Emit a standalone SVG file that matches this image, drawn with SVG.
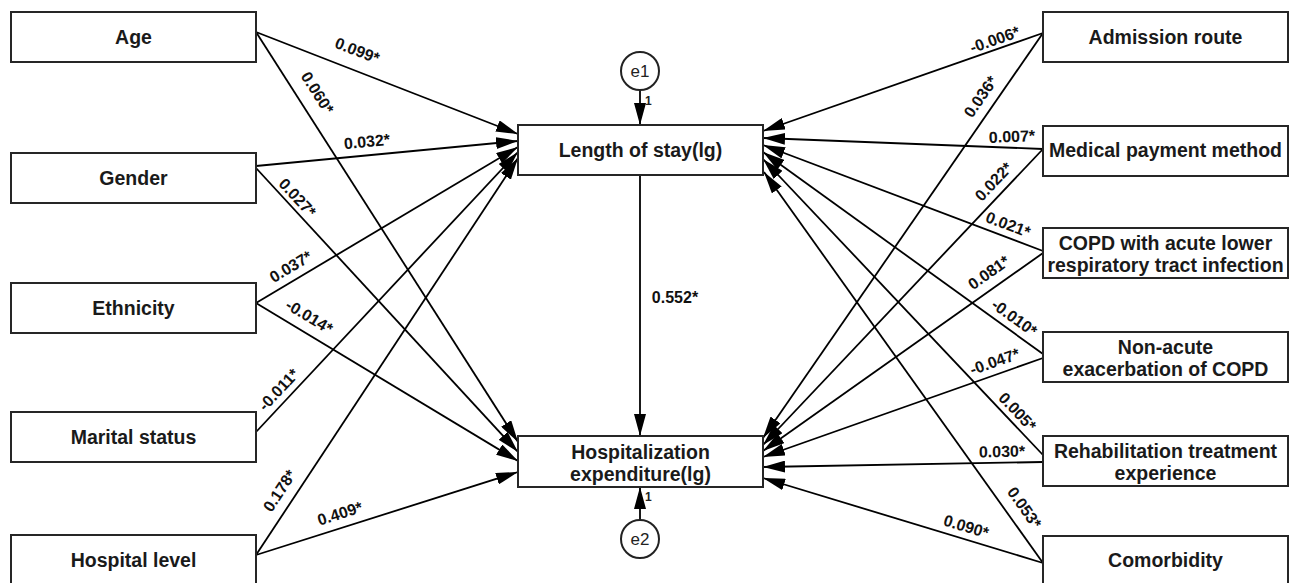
<svg xmlns="http://www.w3.org/2000/svg" width="1290" height="583" viewBox="0 0 1290 583">
<style>
.box{fill:#fff;stroke:#262626;stroke-width:2}
.nt{font-family:"Liberation Sans",Arial,sans-serif;font-weight:bold;font-size:19.5px;fill:#1a1a1a;text-anchor:middle}
.lb{font-family:"Liberation Sans",Arial,sans-serif;font-weight:bold;font-size:16px;fill:#111;text-anchor:middle}
.ed{stroke:#000;stroke-width:1.8;fill:none;marker-end:url(#ah)}
.circ{fill:#fff;stroke:#222;stroke-width:2}
.et{font-family:"Liberation Sans",Arial,sans-serif;font-size:17px;fill:#222;text-anchor:middle}
.one{font-family:"Liberation Sans",Arial,sans-serif;font-weight:bold;font-size:12px;fill:#222}
</style>
<defs>
<marker id="ah" markerUnits="userSpaceOnUse" markerWidth="22" markerHeight="12" viewBox="0 0 22 12" refX="22" refY="6" orient="auto">
<path d="M0,0 L22,6 L0,12 z" fill="#000"/>
</marker>
</defs>
<rect width="1290" height="583" fill="#fff"/>

<g id="connectors">
<line class="ed" x1="256" y1="32" x2="518" y2="134"/>
<line class="ed" x1="256" y1="166" x2="518" y2="141"/>
<line class="ed" x1="256" y1="303" x2="518" y2="147"/>
<line class="ed" x1="256" y1="432" x2="518" y2="152"/>
<line class="ed" x1="256" y1="555" x2="518" y2="158"/>
<line class="ed" x1="256" y1="32" x2="518" y2="442"/>
<line class="ed" x1="256" y1="168" x2="518" y2="452"/>
<line class="ed" x1="256" y1="303" x2="518" y2="461"/>
<line class="ed" x1="256" y1="555" x2="518" y2="472"/>
<line class="ed" x1="1043" y1="33" x2="763" y2="131"/>
<line class="ed" x1="1043" y1="149" x2="763" y2="138"/>
<line class="ed" x1="1043" y1="251" x2="763" y2="145"/>
<line class="ed" x1="1043" y1="354" x2="763" y2="152"/>
<line class="ed" x1="1043" y1="455" x2="763" y2="159"/>
<line class="ed" x1="1043" y1="563" x2="764" y2="172"/>
<line class="ed" x1="1043" y1="33" x2="763" y2="438"/>
<line class="ed" x1="1043" y1="149" x2="763" y2="445"/>
<line class="ed" x1="1043" y1="253" x2="763" y2="451"/>
<line class="ed" x1="1043" y1="358" x2="763" y2="457"/>
<line class="ed" x1="1043" y1="462" x2="763" y2="467"/>
<line class="ed" x1="1043" y1="563" x2="763" y2="478"/>
<line class="ed" x1="640" y1="175" x2="640" y2="436"/>
<line class="ed" x1="640" y1="90" x2="640" y2="125"/>
<line class="ed" x1="640" y1="520" x2="640" y2="487"/>

<text class="lb" transform="translate(357,51) rotate(21.1)" y="5">0.099*</text>
<text class="lb" transform="translate(317,93) rotate(57.4)" y="5">0.060*</text>
<text class="lb" transform="translate(367,142) rotate(-5.5)" y="5">0.032*</text>
<text class="lb" transform="translate(297,198) rotate(47.3)" y="5">0.027*</text>
<text class="lb" transform="translate(291,267) rotate(-30.8)" y="5">0.037*</text>
<text class="lb" transform="translate(309,317) rotate(31.1)" y="5">-0.014*</text>
<text class="lb" transform="translate(279,390) rotate(-46.9)" y="5">-0.011*</text>
<text class="lb" transform="translate(280,491) rotate(-56.6)" y="5">0.178*</text>
<text class="lb" transform="translate(340,514) rotate(-17.6)" y="5">0.409*</text>

<text class="lb" transform="translate(995,40) rotate(-19.3)" y="5">-0.006*</text>
<text class="lb" transform="translate(981,97) rotate(-55.3)" y="5">0.036*</text>
<text class="lb" transform="translate(1012,137) rotate(-2.2)" y="5">0.007*</text>
<text class="lb" transform="translate(994,182) rotate(-46.6)" y="5">0.022*</text>
<text class="lb" transform="translate(1008,225) rotate(20.7)" y="5">0.021*</text>
<text class="lb" transform="translate(989,273) rotate(-35.3)" y="5">0.081*</text>
<text class="lb" transform="translate(1014,318) rotate(35.8)" y="5">-0.010*</text>
<text class="lb" transform="translate(995,362) rotate(-19.5)" y="5">-0.047*</text>
<text class="lb" transform="translate(1017,412) rotate(46.6)" y="5">0.005*</text>
<text class="lb" transform="translate(1002,452) rotate(-1)" y="5">0.030*</text>
<text class="lb" transform="translate(1024,508) rotate(54.5)" y="5">0.053*</text>
<text class="lb" transform="translate(966,527) rotate(16.9)" y="5">0.090*</text>

<text class="lb" x="675" y="303">0.552*</text>
<text class="one" x="645" y="105">1</text>
<text class="one" x="645" y="501">1</text>
</g>

<g id="age"><rect class="box" x="11" y="12" width="245" height="50"/><text class="nt" x="133.5" y="44">Age</text></g>
<g id="gender"><rect class="box" x="11" y="153" width="245" height="50"/><text class="nt" x="133.5" y="185">Gender</text></g>
<g id="ethnicity"><rect class="box" x="11" y="283" width="245" height="50"/><text class="nt" x="133.5" y="315">Ethnicity</text></g>
<g id="marital"><rect class="box" x="11" y="412" width="245" height="50"/><text class="nt" x="133.5" y="444">Marital status</text></g>
<g id="hospital-level"><rect class="box" x="11" y="535" width="245" height="50"/><text class="nt" x="133.5" y="567">Hospital level</text></g>

<g id="admission"><rect class="box" x="1043" y="12" width="245" height="50"/><text class="nt" x="1165.5" y="44">Admission route</text></g>
<g id="payment"><rect class="box" x="1043" y="126" width="245" height="50"/><text class="nt" x="1165.5" y="157">Medical payment method</text></g>
<g id="copd-acute"><rect class="box" x="1043" y="228" width="245" height="50"/><text class="nt" x="1165.5" y="250">COPD with acute lower</text><text class="nt" x="1165.5" y="272">respiratory tract infection</text></g>
<g id="non-acute"><rect class="box" x="1043" y="332" width="245" height="50"/><text class="nt" x="1165.5" y="354">Non-acute</text><text class="nt" x="1165.5" y="376">exacerbation of COPD</text></g>
<g id="rehab"><rect class="box" x="1043" y="436" width="245" height="50"/><text class="nt" x="1165.5" y="458">Rehabilitation treatment</text><text class="nt" x="1165.5" y="480">experience</text></g>
<g id="comorbidity"><rect class="box" x="1043" y="536" width="245" height="50"/><text class="nt" x="1165.5" y="567">Comorbidity</text></g>

<g id="length-of-stay"><rect class="box" x="518" y="125" width="245" height="50"/><text class="nt" x="640.5" y="157">Length of stay(lg)</text></g>
<g id="expenditure"><rect class="box" x="518" y="436" width="245" height="51"/><text class="nt" x="640.5" y="459">Hospitalization</text><text class="nt" x="640.5" y="481">expenditure(lg)</text></g>

<g id="e1"><circle class="circ" cx="640" cy="71" r="19"/><text class="et" x="640" y="77">e1</text></g>
<g id="e2"><circle class="circ" cx="640" cy="539" r="19"/><text class="et" x="640" y="545">e2</text></g>
</svg>
